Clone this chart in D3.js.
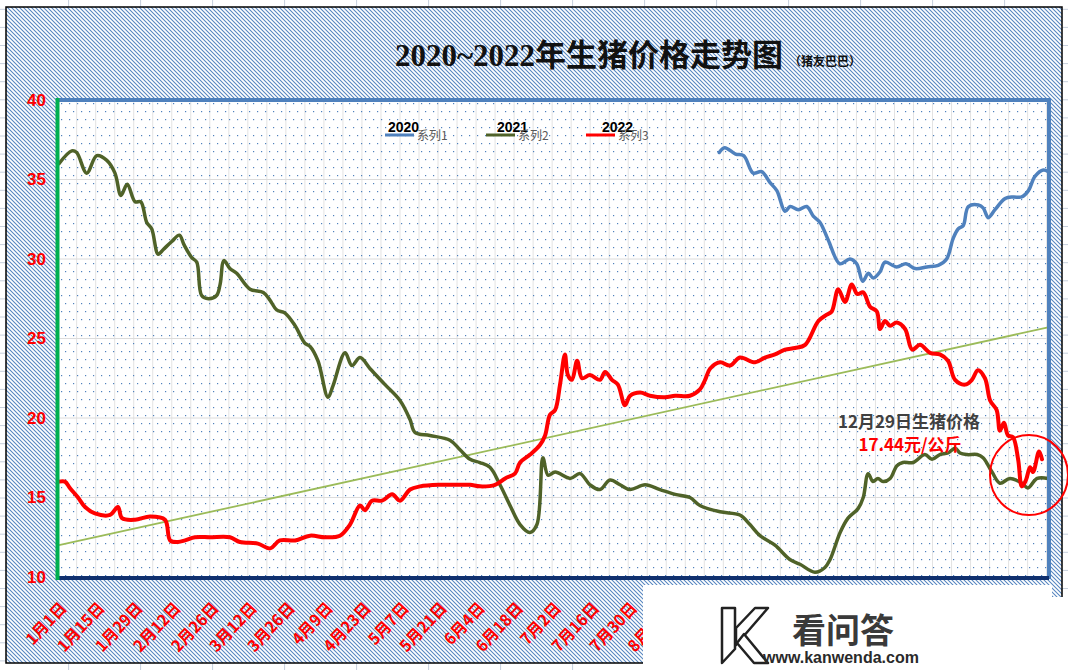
<!DOCTYPE html>
<html>
<head>
<meta charset="utf-8">
<script src="https://cdn.jsdelivr.net/npm/d3@7/dist/d3.min.js"></script>
<style>
  body { margin: 0; background: #fff; }
  svg { display: block; }
</style>
</head>
<body>
<div class="content"></div>
<script>
const w = 1068;
const h = 670;

// day index (0 = 1月1日) and price
const days2020 = [243, 245, 249, 252, 255.5, 258.6, 261.7, 264.2, 267.2, 269.1, 272.1, 275.2, 277.6, 280.1, 283.1, 287.4, 291.1, 293.6, 295.8, 297.9, 299.7, 302.2, 304, 308.3, 311.7, 315.1, 319.4, 323.6, 326.7, 329.1, 331, 332.8, 334.7, 338.4, 340.2, 342, 344.5, 348.2, 351.2, 354.3, 356.8, 359.2, 362.3, 364];
const price2020 = [36.7, 37.0, 36.6, 36.5, 35.4, 35.5, 34.8, 34.3, 33.0, 33.3, 33.1, 33.3, 32.7, 32.3, 31.2, 29.7, 30.0, 29.7, 28.6, 29.1, 28.8, 29.2, 29.8, 29.5, 29.7, 29.4, 29.5, 29.6, 30.0, 31.3, 31.9, 32.1, 33.3, 33.4, 33.2, 32.6, 33.1, 33.8, 33.9, 33.9, 34.3, 35.2, 35.6, 35.5];

const days2021 = [0, 4.7, 6.5, 10.2, 13.9, 17.6, 20.6, 22.8, 25.1, 28, 30.1, 32.3, 34.1, 36.5, 38.4, 41.5, 44.3, 46, 48.8, 50.7, 52.5, 55, 58, 59.3, 60.7, 62.9, 65.4, 70.3, 75.2, 77.7, 80.1, 83.2, 86.9, 90.5, 92.4, 95.3, 99, 100.8, 105.3, 107.8, 110.8, 114.5, 120, 125.5, 129.2, 131, 136.5, 143.9, 147.6, 151.3, 154.9, 158.6, 162.3, 166, 169.7, 173.3, 175.9, 178.1, 180, 182.6, 188.1, 191.8, 195.4, 199.1, 202.8, 206.5, 210.2, 215.7, 221.2, 226.8, 232.2, 235.9, 243.3, 250.6, 254.3, 258, 263.5, 269, 272.7, 278.2, 281.9, 283.8, 287.5, 290.4, 294.1, 296, 297.8, 299.6, 301.4, 303.3, 305.9, 308.4, 310.6, 314.3, 318.7, 321.3, 324.2, 327.2, 329.8, 331.6, 334.2, 337.9, 340.1, 343.4, 346.3, 350, 354.4, 356.6, 360, 364];
const price2021 = [36.0, 36.8, 36.7, 35.4, 36.5, 36.2, 35.4, 34.0, 34.7, 33.6, 33.6, 32.3, 31.9, 30.3, 30.6, 31.1, 31.5, 30.9, 30.1, 29.8, 27.7, 27.5, 27.7, 28.4, 29.9, 29.4, 29.1, 28.1, 27.9, 27.4, 26.8, 26.6, 25.8, 24.7, 24.5, 23.6, 21.3, 22.0, 24.1, 23.3, 23.8, 23.1, 22.1, 21.1, 19.9, 19.1, 18.9, 18.6, 18.0, 17.4, 17.2, 16.9, 15.8, 14.5, 13.3, 12.8, 13.3, 17.5, 16.4, 16.6, 16.2, 16.5, 15.8, 15.5, 16.1, 15.8, 15.5, 15.8, 15.5, 15.2, 15.0, 14.5, 14.1, 13.9, 13.3, 12.6, 12.0, 11.1, 10.8, 10.3, 10.6, 11.1, 12.8, 13.7, 14.3, 15.0, 16.5, 16.0, 16.2, 16.0, 16.2, 17.0, 17.2, 17.2, 17.7, 17.4, 17.7, 17.8, 18.1, 17.8, 17.7, 17.7, 17.5, 16.6, 15.9, 16.2, 15.9, 15.6, 16.2, 16.2];

const days2022 = [0, 2.2, 4, 7, 9.6, 13.2, 18.8, 21.7, 23.2, 28, 33.5, 39, 40.9, 43.8, 46.4, 50, 55.6, 62.9, 66.6, 73.2, 77.7, 81.3, 86.9, 92.4, 97.9, 103.4, 107.1, 110.8, 112.6, 115.2, 118.9, 122.6, 125.5, 129.2, 132.9, 140.2, 147.6, 151.3, 155, 160.5, 164.2, 167.8, 169.7, 173.4, 177, 178.9, 180.7, 182.6, 184.4, 186.2, 187.3, 188.8, 190.7, 192.5, 195.4, 199.1, 201, 203.5, 205.7, 208.3, 210.2, 213.9, 217.5, 223, 226.8, 232.2, 235.9, 237.8, 239.6, 243.3, 247, 250.6, 256.2, 259.8, 263.5, 267.2, 270.9, 274.6, 279.5, 282.6, 284.4, 286.8, 289.3, 291.8, 293.8, 296, 298.5, 301, 302.2, 304, 305.9, 308.3, 311.4, 314, 316.9, 320.6, 324.2, 327.2, 329.8, 333.5, 336, 338.2, 340.8, 342.7, 345.1, 346.3, 347.8, 349.3, 351.1, 353, 354.4, 355.9, 357.4, 358.5, 360.7, 361.8];
const price2022 = [16.0, 16.0, 15.6, 15.0, 14.4, 14.0, 13.9, 14.4, 13.7, 13.6, 13.8, 13.6, 12.3, 12.2, 12.3, 12.5, 12.5, 12.5, 12.2, 12.1, 11.8, 12.3, 12.3, 12.6, 12.5, 12.6, 13.3, 14.5, 14.2, 14.8, 14.8, 15.2, 14.8, 15.5, 15.7, 15.8, 15.8, 15.8, 15.7, 15.8, 16.2, 16.5, 17.2, 17.7, 18.3, 18.9, 20.2, 20.5, 22.1, 24.0, 22.7, 22.4, 23.6, 22.5, 22.7, 22.4, 22.9, 22.4, 22.1, 20.8, 21.4, 21.6, 21.4, 21.3, 21.4, 21.4, 21.8, 22.4, 23.1, 23.5, 23.3, 23.8, 23.5, 23.8, 24.0, 24.3, 24.4, 24.6, 26.1, 26.5, 26.7, 28.1, 27.3, 28.4, 27.8, 27.9, 27.0, 26.7, 25.6, 26.1, 25.8, 26.0, 25.6, 24.3, 24.6, 24.1, 24.0, 23.6, 22.4, 22.1, 22.4, 23.0, 22.5, 21.1, 20.5, 19.2, 19.7, 18.9, 18.8, 17.4, 15.7, 16.1, 16.9, 16.6, 17.9, 17.4];

// linear trend line, start and end values
const trendDays = [0, 364];
const trendValues = [12.0, 25.7];

const yTicks = [10, 15, 20, 25, 30, 35, 40];
const tickDays = [0, 14, 28, 42, 56, 70, 84, 98, 112, 126, 140, 154, 168, 182, 196, 210, 224, 238, 252, 266, 280, 294, 308, 322, 336, 350, 364];
const tickLabels = ['1月1日', '1月15日', '1月29日', '2月12日', '2月26日', '3月12日', '3月26日', '4月9日', '4月23日', '5月7日', '5月21日', '6月4日', '6月18日', '7月2日', '7月16日', '7月30日', '8月13日', '8月27日', '9月10日', '9月24日', '10月8日', '10月22日', '11月5日', '11月19日', '12月3日', '12月17日', '12月31日'];

const seriesNames = ['2020', '2021', '2022'];
const seriesLabels = ['系列1', '系列2', '系列3'];
const colors = ['#4f81bd', '#4f6228', '#ff0000'];

const cjk = '"Noto Sans CJK SC", sans-serif';

const svg = d3.select('.content').append('svg')
  .attr('width', w)
  .attr('height', h);

const defs = svg.append('defs');

const hatch = defs.append('pattern')
  .attr('id', 'hatch')
  .attr('patternUnits', 'userSpaceOnUse')
  .attr('width', 4)
  .attr('height', 4);
hatch.append('rect').attr('width', 4).attr('height', 4).attr('fill', '#fff');
hatch.append('path')
  .attr('d', 'M-1,-1 L5,5 M-1,3 L1,5 M3,-1 L5,1')
  .attr('stroke', '#5585c0')
  .attr('stroke-width', 1.05);

const dots = defs.append('pattern')
  .attr('id', 'dots')
  .attr('patternUnits', 'userSpaceOnUse')
  .attr('x', 59)
  .attr('y', 100)
  .attr('width', 8)
  .attr('height', 16);
dots.append('rect').attr('x', 2).attr('y', 3).attr('width', 1.2).attr('height', 1.2).attr('fill', '#4f81bd');
dots.append('rect').attr('x', 6).attr('y', 11).attr('width', 1.2).attr('height', 1.2).attr('fill', '#4f81bd');

// sheet cells behind the chart
svg.append('rect').attr('width', w).attr('height', h).attr('fill', '#fff');
svg.append('g').selectAll('line')
  .data(d3.range(9.3, h, 18.1))
  .enter().append('line')
  .attr('x1', 0).attr('x2', w)
  .attr('y1', (d) => d).attr('y2', (d) => d)
  .attr('stroke', '#c6cfdc');
svg.append('g').selectAll('line')
  .data(d3.range(68.6, w, 72))
  .enter().append('line')
  .attr('y1', 0).attr('y2', h)
  .attr('x1', (d) => d).attr('x2', (d) => d)
  .attr('stroke', '#c6cfdc');

// chart area
svg.append('rect')
  .attr('x', 6).attr('y', 7)
  .attr('width', 1056).attr('height', 656)
  .attr('fill', 'url(#hatch)')
  .attr('stroke', '#000')
  .attr('stroke-width', 1.5);

const x = d3.scaleLinear().domain([0, 364]).range([59, 1048]);
const y = d3.scaleLinear().domain([10, 40]).range([577, 100]);

// plot area
svg.append('rect')
  .attr('x', 59).attr('y', 100)
  .attr('width', 989).attr('height', 477)
  .attr('fill', '#fff');

svg.append('g').selectAll('line')
  .data(d3.range(6.5, 364, 7))
  .enter().append('line')
  .attr('x1', (d) => x(d)).attr('x2', (d) => x(d))
  .attr('y1', 100).attr('y2', 577)
  .attr('stroke', '#e3e3e3');
svg.append('g').selectAll('line')
  .data(yTicks.slice(1, -1))
  .enter().append('line')
  .attr('x1', 59).attr('x2', 1048)
  .attr('y1', (d) => y(d)).attr('y2', (d) => y(d))
  .attr('stroke', '#dcdcdc');

svg.append('rect')
  .attr('x', 59).attr('y', 100)
  .attr('width', 989).attr('height', 477)
  .attr('fill', 'url(#dots)');

// trend line
svg.append('line')
  .attr('x1', x(trendDays[0])).attr('y1', y(trendValues[0]))
  .attr('x2', x(trendDays[1])).attr('y2', y(trendValues[1]))
  .attr('stroke', '#9bbb59')
  .attr('stroke-width', 1.8);

const line = d3.line()
  .x((d) => x(d[0]))
  .y((d) => y(d[1]))
  .curve(d3.curveCatmullRom.alpha(0.5));

const series = [
  d3.zip(days2020, price2020),
  d3.zip(days2021, price2021),
  d3.zip(days2022, price2022)
];

svg.append('g').selectAll('path')
  .data(series)
  .enter().append('path')
  .attr('d', line)
  .attr('fill', 'none')
  .attr('stroke', (d, i) => colors[i])
  .attr('stroke-width', (d, i) => i === 2 ? 4 : 3.5)
  .attr('stroke-linejoin', 'round')
  .attr('stroke-linecap', 'round');

// plot borders
svg.append('line').attr('x1', 57).attr('x2', 1051).attr('y1', 100).attr('y2', 100)
  .attr('stroke', '#4f81bd').attr('stroke-width', 4);
svg.append('line').attr('x1', 1049).attr('x2', 1049).attr('y1', 98).attr('y2', 579)
  .attr('stroke', '#4f81bd').attr('stroke-width', 4);
svg.append('line').attr('x1', 57).attr('x2', 1049).attr('y1', 578).attr('y2', 578)
  .attr('stroke', '#10306e').attr('stroke-width', 4);
svg.append('line').attr('x1', 57.5).attr('x2', 57.5).attr('y1', 98).attr('y2', 580)
  .attr('stroke', '#00b050').attr('stroke-width', 4);

// axes
const yAxis = svg.append('g')
  .attr('transform', 'translate(59,0)')
  .call(d3.axisLeft(y).tickValues(yTicks).tickSize(0).tickPadding(13));
yAxis.select('.domain').remove();
yAxis.selectAll('text')
  .attr('fill', '#ff0000')
  .style('font-family', '"Liberation Sans", Arial, sans-serif')
  .style('font-size', '17px')
  .style('font-weight', 'bold');

const xAxis = svg.append('g')
  .attr('transform', 'translate(0,577)')
  .call(d3.axisBottom(x).tickValues(tickDays).tickSize(0)
    .tickFormat((d, i) => tickLabels[i]));
xAxis.select('.domain').remove();
xAxis.selectAll('text')
  .attr('fill', '#ff0000')
  .attr('text-anchor', 'end')
  .attr('y', 0)
  .attr('dy', '0.35em')
  .attr('transform', 'translate(4,28) rotate(-47)')
  .style('font-family', cjk)
  .style('font-size', '16px')
  .style('font-weight', 'bold');

// title
svg.append('text')
  .attr('x', 395)
  .attr('y', 66)
  .style('font-family', '"Liberation Serif", "Noto Sans CJK SC", serif')
  .style('font-weight', 'bold')
  .style('font-size', '31px')
  .attr('fill', '#111')
  .text('2020~2022年生猪价格走势图');
svg.append('text')
  .attr('x', 789)
  .attr('y', 66)
  .style('font-family', cjk)
  .style('font-weight', 'bold')
  .style('font-size', '12px')
  .attr('fill', '#111')
  .text('（猪友巴巴）');

// legend
const legendX = [385, 486, 586];
const yearX = [388, 497, 602];
const legend = svg.append('g').attr('id', 'legend');
seriesNames.forEach((name, i) => {
  legend.append('line')
    .attr('x1', legendX[i]).attr('x2', legendX[i] + 29)
    .attr('y1', 135).attr('y2', 135)
    .attr('stroke', colors[i])
    .attr('stroke-width', 3);
  legend.append('text')
    .attr('x', yearX[i]).attr('y', 132)
    .style('font-family', '"Liberation Sans", Arial, sans-serif')
    .style('font-weight', 'bold')
    .style('font-size', '14px')
    .attr('fill', '#000')
    .text(name);
  legend.append('text')
    .attr('x', legendX[i] + 32).attr('y', 140)
    .style('font-family', cjk)
    .style('font-size', '12px')
    .attr('fill', '#595959')
    .text(seriesLabels[i]);
});

// annotation
svg.append('text')
  .attr('x', 909).attr('y', 428)
  .attr('text-anchor', 'middle')
  .style('font-family', cjk)
  .style('font-weight', 'bold')
  .style('font-size', '17px')
  .attr('fill', '#404040')
  .text('12月29日生猪价格');
svg.append('text')
  .attr('x', 910).attr('y', 451)
  .attr('text-anchor', 'middle')
  .style('font-family', cjk)
  .style('font-weight', 'bold')
  .style('font-size', '17px')
  .attr('fill', '#ff0000')
  .text('17.44元/公斤');
svg.append('ellipse')
  .attr('cx', 1029).attr('cy', 475)
  .attr('rx', 39).attr('ry', 40)
  .attr('fill', 'none')
  .attr('stroke', '#ff0000')
  .attr('stroke-width', 2);

// watermark box
const mark = svg.append('g');
mark.append('path')
  .attr('d', 'M643,585 L1052,585 L1052,597 L1068,597 L1068,670 L643,670 Z')
  .attr('fill', '#fff');
mark.selectAll('path.k')
  .data([
    'M722,608 L735,608 L735,649 L722,663 Z',
    'M755,608 L768,608 L736,645 L736,628 Z',
    'M744,634 L768,663 L754,663 L737,643 Z'
  ])
  .enter().append('path')
  .attr('class', 'k')
  .attr('d', (d) => d)
  .attr('fill', '#fff')
  .attr('stroke', '#222')
  .attr('stroke-width', 2.5)
  .attr('stroke-linejoin', 'round');
mark.append('text')
  .attr('x', 792).attr('y', 643)
  .style('font-family', cjk)
  .style('font-weight', 'bold')
  .style('font-size', '34px')
  .attr('fill', '#3a3a3a')
  .text('看问答');
mark.append('text')
  .attr('x', 763).attr('y', 663)
  .style('font-family', '"Liberation Sans", Arial, sans-serif')
  .style('font-weight', 'bold')
  .style('font-size', '16px')
  .attr('fill', '#2a2a2a')
  .text('www.kanwenda.com');
</script>
</body>
</html>
